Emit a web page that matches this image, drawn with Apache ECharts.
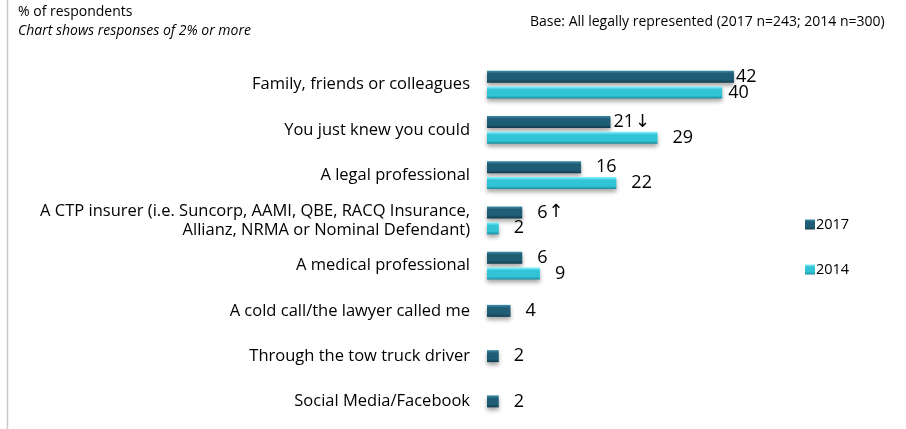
<!DOCTYPE html>
<html>
<head>
<meta charset="utf-8">
<script src="https://cdn.jsdelivr.net/npm/echarts@6/dist/echarts.min.js"></script>
<style>
  html, body { margin: 0; padding: 0; background: #fff; }
  #chart { width: 906px; height: 429px; }
</style>
</head>
<body>
<div id="chart"></div>
<script>
// Sources through which respondents found their lawyer (% of respondents)
const categories = [
  'Family, friends or colleagues',
  'You just knew you could',
  'A legal professional',
  'A CTP insurer (i.e. Suncorp, AAMI, QBE, RACQ Insurance,\nAllianz, NRMA or Nominal Defendant)',
  'A medical professional',
  'A cold call/the lawyer called me',
  'Through the tow truck driver',
  'Social Media/Facebook'
];
const values2017 = [42, 21, 16, 6, 6, 4, 2, 2];
const values2014 = [40, 29, 22, 2, 9, null, null, null];
// significant change markers on the 2017 values
const change2017 = ['', '↓', '', '↑', '', '', '', ''];
const seriesNames = ['2017', '2014'];

const FONT = '"Open Sans", "Noto Sans", sans-serif';
const ARROW_FONT = '"DejaVu Sans", sans-serif';

function bevel(top, mid, bottom) {
  return new echarts.graphic.LinearGradient(0, 0, 0, 1, [
    { offset: 0, color: top },
    { offset: 0.25, color: mid },
    { offset: 0.75, color: mid },
    { offset: 1, color: bottom }
  ]);
}
const color2017 = bevel('#3f8fa9', '#1f5d75', '#113a4a');
const color2014 = bevel('#8af2ff', '#30c4d6', '#198a9a');

const shadow = {
  shadowColor: 'rgba(0,0,0,0.35)',
  shadowBlur: 4,
  shadowOffsetY: 3
};

// per-label distance tweaks for the longest bars
const dist2017 = { 0: 2, 1: 3 };
const dist2014 = { 0: 6 };

const hasPair = values2014.map(v => v !== null);

const paired2017 = values2017.map((v, i) => hasPair[i]
  ? { value: v, label: { distance: dist2017[i] !== undefined ? dist2017[i] : 15 } }
  : null);
const paired2014 = values2014.map((v, i) => v === null ? null
  : { value: v, label: { distance: dist2014[i] !== undefined ? dist2014[i] : 15 } });
const single2017 = values2017.map((v, i) => hasPair[i] ? null : v);

const labelStyle = {
  show: true,
  position: 'right',
  distance: 15,
  fontFamily: FONT,
  fontSize: 18,
  color: '#000',
  rich: {
    a: { fontFamily: ARROW_FONT, fontSize: 18, color: '#000', padding: [0, 0, 0, 1] }
  }
};

const label2017 = p => change2017[p.dataIndex]
  ? p.value + '{a|' + change2017[p.dataIndex] + '}'
  : String(p.value);

const chart = echarts.init(document.getElementById('chart'), null, { renderer: 'canvas' });
chart.setOption({
  animation: false,
  backgroundColor: '#fff',
  textStyle: { fontFamily: FONT },
  graphic: [
    { type: 'line', shape: { x1: 7.5, y1: 0, x2: 7.5, y2: 429 },
      style: { stroke: '#c8c8c8', lineWidth: 1.5 } },
    { type: 'text', left: 18, top: 5,
      style: { text: '% of respondents', font: '14px ' + FONT, fill: '#000' } },
    { type: 'text', left: 18, top: 24,
      style: { text: 'Chart shows responses of 2% or more', font: 'italic 14px ' + FONT, fill: '#000' } },
    { type: 'text', left: 530, top: 15,
      style: { text: 'Base: All legally represented (2017 n=243; 2014 n=300)', font: '14px ' + FONT, fill: '#000' } }
  ],
  legend: {
    data: seriesNames,
    orient: 'vertical',
    left: 800,
    top: 212,
    itemWidth: 10,
    itemHeight: 10,
    itemGap: 30,
    icon: 'rect',
    textStyle: { fontFamily: FONT, fontSize: 14.5, color: '#000', padding: [0, 0, 0, -4] }
  },
  grid: { left: 487, top: 62, width: 294, height: 362, containLabel: false },
  xAxis: {
    type: 'value',
    min: 0,
    max: 50,
    show: false
  },
  yAxis: [
    {
      type: 'category',
      data: categories,
      inverse: true,
      axisLine: { show: false },
      axisTick: { show: false },
      axisLabel: {
        margin: 17,
        fontFamily: FONT,
        fontSize: 16.5,
        lineHeight: 19,
        color: '#000',
        align: 'right'
      }
    },
    {
      type: 'category',
      data: categories,
      inverse: true,
      show: false
    }
  ],
  series: [
    {
      name: '2017',
      type: 'bar',
      yAxisIndex: 0,
      data: paired2017,
      barWidth: 12,
      barGap: '33%',
      itemStyle: Object.assign({ color: color2017 }, shadow),
      label: Object.assign({}, labelStyle, { formatter: label2017 })
    },
    {
      name: '2014',
      type: 'bar',
      yAxisIndex: 0,
      data: paired2014,
      barWidth: 12,
      barGap: '33%',
      itemStyle: Object.assign({ color: color2014 }, shadow),
      label: Object.assign({}, labelStyle)
    },
    {
      name: '2017',
      type: 'bar',
      yAxisIndex: 1,
      data: single2017,
      barWidth: 12,
      itemStyle: Object.assign({ color: color2017 }, shadow),
      label: Object.assign({}, labelStyle, { formatter: label2017 })
    }
  ]
});
</script>
</body>
</html>
